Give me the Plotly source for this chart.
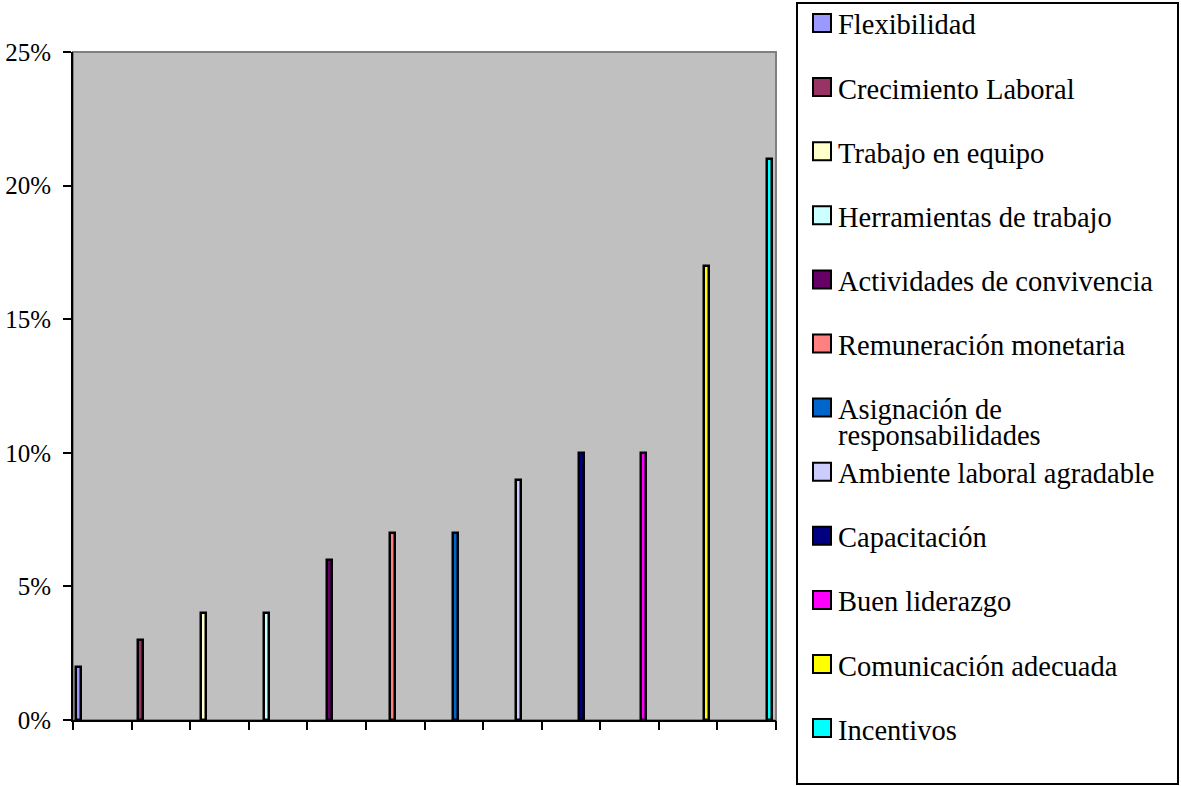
import plotly.graph_objects as go

# ---------------- data ----------------
categories = [
    "Flexibilidad",
    "Crecimiento Laboral",
    "Trabajo en equipo",
    "Herramientas de trabajo",
    "Actividades de convivencia",
    "Remuneración monetaria",
    "Asignación de<br>responsabilidades",
    "Ambiente laboral agradable",
    "Capacitación",
    "Buen liderazgo",
    "Comunicación adecuada",
    "Incentivos",
]
values = [0.02, 0.03, 0.04, 0.04, 0.06, 0.07, 0.07, 0.09, 0.10, 0.10, 0.17, 0.21]
colors = [
    "#9999FF", "#993366", "#FFFFCC", "#CCFFFF", "#660066", "#FF8080",
    "#0066CC", "#CCCCFF", "#000080", "#FF00FF", "#FFFF00", "#00FFFF",
]
y_ticks = [0, 0.05, 0.10, 0.15, 0.20, 0.25]

# ---------------- layout constants ----------------
W, H = 1181, 786
PL, PR, PT, PB = 73, 776, 52, 720  # plot area in pixels
FONT = "Liberation Serif, Times New Roman, serif"


def px2x(px):
    return (px - PL) / (PR - PL)


def py2y(py):
    return (PB - py) / (PB - PT)


fig = go.Figure()
for i, (name, v, c) in enumerate(zip(categories, values, colors)):
    fig.add_trace(go.Bar(
        x=[i], y=[v], name=name.replace("<br>", " "), width=0.08,
        marker=dict(color=c, line=dict(color="black", width=2.5)),
        showlegend=False,
    ))

# invisible trace to drive the category tick marks axis
fig.add_trace(go.Scatter(x=[0, 12], y=[0, 0], xaxis="x2", mode="markers",
                         marker=dict(opacity=0), showlegend=False, hoverinfo="skip"))

shapes = [
    # plot area frame (gray top/right)
    dict(type="rect", xref="paper", yref="paper", x0=0, x1=1, y0=0, y1=1,
         line=dict(color="#808080", width=2), fillcolor="rgba(0,0,0,0)", layer="below"),
    # legend box
    dict(type="rect", xref="paper", yref="paper",
         x0=px2x(797), x1=px2x(1178), y0=py2y(784), y1=py2y(3),
         line=dict(color="black", width=2), fillcolor="white"),
]
annotations = []
LEG_TOP, LEG_STEP, SQ = 23, 64.1, 18
for i, (name, c) in enumerate(zip(categories, colors)):
    cy = LEG_TOP + LEG_STEP * i
    shapes.append(dict(type="rect", xref="paper", yref="paper",
                       x0=px2x(813), x1=px2x(813 + SQ),
                       y0=py2y(cy + SQ / 2), y1=py2y(cy - SQ / 2),
                       line=dict(color="black", width=2), fillcolor=c))
    for j, line in enumerate(name.split("<br>")):
        annotations.append(dict(xref="paper", yref="paper", x=px2x(836),
                                y=py2y(cy + 2 + 26 * j), xanchor="left", yanchor="middle",
                                text=line, showarrow=False,
                                font=dict(family=FONT, size=28.5, color="black")))

fig.update_layout(
    width=W, height=H,
    margin=dict(l=PL, r=W - PR, t=PT, b=H - PB, pad=0, autoexpand=False),
    paper_bgcolor="white",
    plot_bgcolor="#C0C0C0",
    font=dict(family=FONT, color="black"),
    bargap=0, barmode="overlay",
    xaxis=dict(range=[-0.08, 11.1], showgrid=False, zeroline=False,
               showticklabels=False, ticks="", showline=True,
               linecolor="black", linewidth=2, automargin=False),
    xaxis2=dict(overlaying="x", side="bottom", range=[0, 12],
                tickvals=list(range(13)), ticks="outside", ticklen=9,
                tickwidth=2, tickcolor="black", showticklabels=False,
                showgrid=False, zeroline=False, showline=False, automargin=False),
    yaxis=dict(range=[0, 0.25], tickvals=y_ticks, tickformat=".0%",
               ticks="outside", ticklen=8, tickwidth=2, tickcolor="black",
               showgrid=False, zeroline=False, showline=True,
               linecolor="black", linewidth=2, automargin=False,
               tickfont=dict(family=FONT, size=25, color="black"),
               ticklabelstandoff=7),
    shapes=shapes,
    annotations=annotations,
)

fig.write_html(
    "out.html",
    config={"displayModeBar": False},
    post_script="document.body.style.margin='0px';document.body.style.overflow='hidden';",
)
